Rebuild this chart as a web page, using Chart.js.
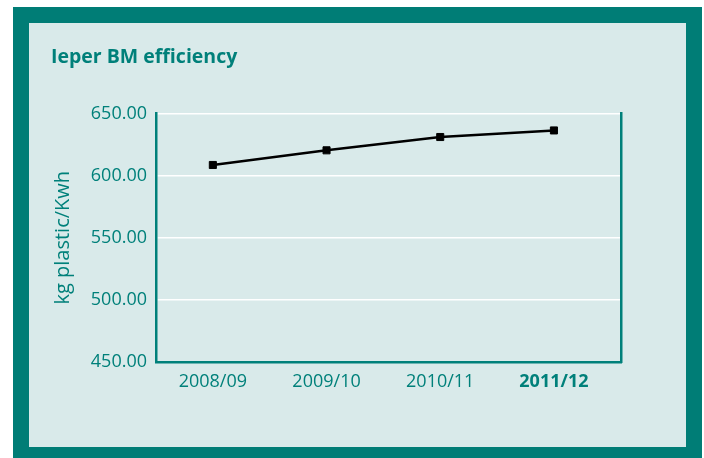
<!DOCTYPE html>
<html>
<head>
<meta charset="utf-8">
<script src="https://cdn.jsdelivr.net/npm/chart.js@4.4.0/dist/chart.umd.min.js"></script>
<style>
    html, body { margin: 0; padding: 0; background: #ffffff; }
    .frame {
        position: absolute;
        left: 13px; top: 7px;
        width: 689px; height: 460px;
        background: #007d76;
    }
    .panel {
        position: absolute;
        left: 16px; top: 16px;
        width: 657px; height: 424px;
        background: #d9eaea;
    }
    canvas { display: block; }
</style>
</head>
<body>
<div class="frame">
    <div class="panel">
        <canvas id="effChart" width="657" height="424"></canvas>
    </div>
</div>
<script>
// Yearly efficiency figures
const years = ['2008/09', '2009/10', '2010/11', '2011/12'];
const efficiency = [608.5, 620.3, 631.0, 636.3];
const yTicks = [450, 500, 550, 600, 650];

const teal = '#00807a';
const fontFamily = '"Open Sans", sans-serif';

document.addEventListener('DOMContentLoaded', function() {
    createEfficiencyChart();
});

function createEfficiencyChart() {
    const ctx = document.getElementById('effChart').getContext('2d');
    const points = efficiency.map((v, i) => ({ x: i, y: v }));

    new Chart(ctx, {
        type: 'line',
        data: {
            datasets: [{
                data: points,
                borderColor: '#000000',
                borderWidth: 2.5,
                backgroundColor: '#000000',
                pointStyle: 'rect',
                pointRadius: 5,
                pointBorderWidth: 1,
                tension: 0,
                yAxisID: 'y'
            }]
        },
        options: {
            responsive: false,
            animation: false,
            layout: { padding: { left: 22, top: 23, right: 0, bottom: 0 } },
            plugins: {
                legend: { display: false },
                tooltip: { enabled: false },
                title: {
                    display: true,
                    text: 'Ieper BM efficiency',
                    align: 'start',
                    color: teal,
                    font: { family: fontFamily, size: 19.5, weight: 'bold' },
                    padding: { top: 0, bottom: 44 }
                }
            },
            scales: {
                x: {
                    type: 'linear',
                    min: -0.5,
                    max: 3.59,
                    afterBuildTicks: scale => {
                        scale.ticks = years.map((_, i) => ({ value: i }));
                    },
                    afterFit: scale => { scale.height = 85; },
                    grid: { display: false, drawTicks: false },
                    border: { color: teal, width: 2.5 },
                    ticks: {
                        padding: 9,
                        color: teal,
                        font: c => ({
                            family: fontFamily,
                            size: 18,
                            weight: c.index === years.length - 1 ? 'bold' : 'normal'
                        }),
                        callback: v => years[v]
                    }
                },
                y: {
                    min: yTicks[0],
                    max: yTicks[yTicks.length - 1],
                    afterBuildTicks: scale => {
                        scale.ticks = yTicks.map(v => ({ value: v }));
                    },
                    afterFit: scale => { scale.width = 105; },
                    grid: { color: '#ffffff', lineWidth: 1.5, drawTicks: false },
                    border: { color: teal, width: 2.5 },
                    ticks: {
                        padding: 9,
                        color: teal,
                        font: { family: fontFamily, size: 18 },
                        callback: v => v.toFixed(2)
                    },
                    title: {
                        display: true,
                        text: 'kg plastic/Kwh',
                        color: teal,
                        font: { family: fontFamily, size: 20 },
                        padding: 0
                    }
                },
                y2: {
                    position: 'right',
                    min: 0,
                    max: 1,
                    afterFit: scale => { scale.width = 65; },
                    grid: { display: false, drawTicks: false },
                    border: { color: teal, width: 2.5 },
                    ticks: { display: false }
                }
            }
        }
    });
}
</script>
</body>
</html>
